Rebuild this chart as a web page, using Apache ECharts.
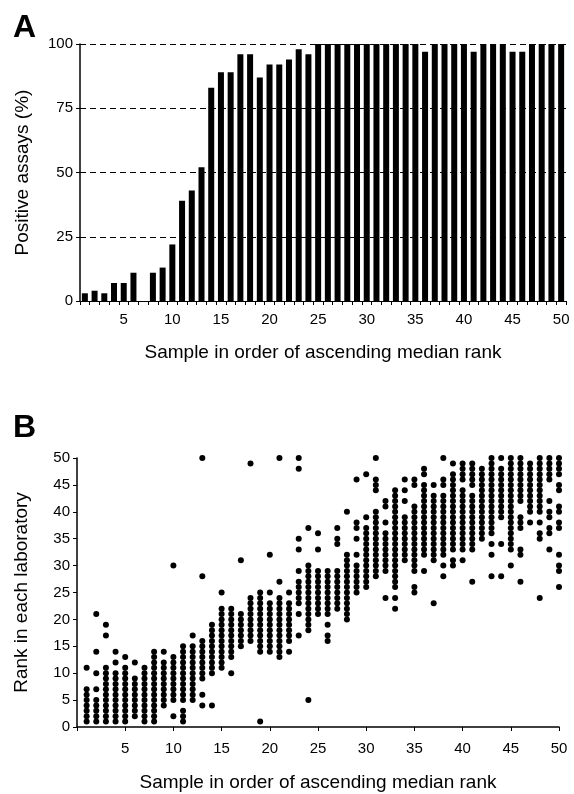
<!DOCTYPE html>
<html>
<head>
<meta charset="utf-8">
<script src="https://cdn.jsdelivr.net/npm/echarts@6/dist/echarts.min.js"></script>
<style>
html,body{margin:0;padding:0;background:#fff;}
#chart{width:574px;height:794px;}
</style>
</head>
<body>
<div id="chart"></div>
<script>
// ---- Panel A data ----
const samples = [1,2,3,4,5,6,7,8,9,10,11,12,13,14,15,16,17,18,19,20,21,22,23,24,25,26,27,28,29,30,31,32,33,34,35,36,37,38,39,40,41,42,43,44,45,46,47,48,49,50];
const positivePct = [3,4,3,7,7,11,0,11,13,22,39,43,52,83,89,89,96,96,87,92,92,94,98,96,100,100,100,100,100,100,100,100,100,100,100,97,100,100,100,100,97,100,100,100,97,97,100,100,100,100];
const pctTicks = [0,25,50,75,100];

// ---- Panel B data: ranks per sample (sample 1..50) ----
const ranks = [
  [11,7,6,5,4,3,2,1],
  [21,14,10,7,5,4,3,2,1],
  [19,17,11,10,9,8,7,6,5,4,3,2,1],
  [14,12,10,9,8,7,6,5,4,3,2,1],
  [13,11,10,9,8,7,6,5,4,3,2,1],
  [12,9,8,7,6,5,4,3,2],
  [11,10,9,8,7,6,5,4,3,2,1],
  [14,13,12,11,10,9,8,7,6,5,4,3,2,1],
  [14,12,11,10,9,8,7,6,5,4],
  [30,13,12,11,10,9,8,7,6,5,2],
  [15,14,13,12,11,10,9,8,7,6,5,3,2,1],
  [17,15,14,13,12,11,10,9,8,7,6,5],
  [50,28,16,15,14,13,12,11,10,9,6,4],
  [19,18,17,16,15,14,13,12,11,10,4],
  [25,22,21,20,19,18,17,16,15,14,13,12,11],
  [22,21,20,19,18,17,16,15,14,13,10],
  [31,21,20,19,18,17,16,15],
  [49,24,23,22,21,20,19,18,17,16],
  [25,24,23,22,21,20,19,18,17,16,15,14,1],
  [32,25,23,22,21,20,19,18,17,16,15,14],
  [50,27,24,23,22,21,20,19,18,17,16,15,14,13],
  [25,23,22,21,20,19,18,17,16,14],
  [50,48,35,33,29,27,26,25,24,23,21,17],
  [37,30,29,28,27,26,25,24,23,22,21,20,19,18,5],
  [36,33,29,28,27,26,25,24,23,22,21],
  [29,28,27,26,25,24,23,22,21,19,17,16],
  [37,35,34,29,28,27,26,25,24,23,22],
  [40,32,31,30,29,28,27,26,25,24,23,22,21,20],
  [46,38,37,35,32,30,29,28,27,26,25],
  [47,39,37,36,35,34,33,32,31,30,29,28,27,26],
  [50,46,45,44,40,39,38,37,36,35,34,33,32,31,30,29,28],
  [42,41,38,36,35,34,33,32,31,30,29,24],
  [44,43,42,41,40,39,38,37,36,35,34,33,32,31,30,29,28,27,26,24,22],
  [46,44,42,39,38,37,36,35,34,33,32,31],
  [46,45,41,40,39,38,37,36,35,34,33,32,31,30,29,26,25],
  [48,47,45,44,43,42,41,40,39,38,37,36,35,34,33,32,29],
  [45,43,42,41,40,39,38,37,36,35,34,33,32,31,23],
  [50,46,45,43,42,41,40,39,38,37,36,35,34,33,32,30,28],
  [49,47,46,45,44,43,42,41,40,39,38,37,36,35,34,33,31,30],
  [49,48,47,46,44,43,42,41,40,39,38,37,36,35,34,33,31],
  [49,48,47,46,45,43,42,41,40,39,38,37,36,35,34,33,27],
  [48,47,46,45,44,43,42,41,40,39,38,37,36,35],
  [50,49,48,47,46,45,44,43,42,41,40,39,38,37,36,34,32,28],
  [50,48,47,46,45,44,43,42,41,40,39,34,28],
  [50,49,48,47,46,45,44,43,42,41,40,39,38,37,36,35,34,33,30],
  [50,49,48,47,46,45,44,43,42,39,38,37,33,32,27],
  [49,48,47,46,45,44,43,42,41,40,38],
  [50,49,48,47,46,45,44,43,42,41,40,38,36,35,24],
  [50,49,48,47,46,42,40,39,37,36,33],
  [50,49,48,47,45,44,41,40,38,37,32,30,29,26]
];
const rankTicks = [0,5,10,15,20,25,30,35,40,45,50];

const scatterData = [];
ranks.forEach((list, i) => list.forEach(r => scatterData.push([samples[i], r])));

const FONT = "'Liberation Sans', Arial, sans-serif";
const black = '#000';
const txt = {color: black, fontFamily: FONT, fontSize: 15};

const chart = echarts.init(document.getElementById('chart'), null, {renderer: 'canvas'});
chart.setOption({
  animation: false,
  backgroundColor: '#fff',
  textStyle: {fontFamily: FONT, color: black},
  title: [
    {text: 'A', left: 8, top: 7, textStyle: {fontSize: 32, fontWeight: 'bold', color: black, fontFamily: FONT}},
    {text: 'B', left: 8, top: 407, textStyle: {fontSize: 32, fontWeight: 'bold', color: black, fontFamily: FONT}}
  ],
  grid: [
    {left: 80, top: 44, width: 486, height: 257, containLabel: false},
    {left: 77, top: 458, width: 482, height: 269, containLabel: false}
  ],
  xAxis: [
    {
      gridIndex: 0, type: 'category', data: samples, boundaryGap: true,
      axisLine: {lineStyle: {color: black, width: 1}},
      axisTick: {show: true, interval: 0, length: 4, lineStyle: {color: black}},
      axisLabel: Object.assign({interval: (i) => (i + 1) % 5 === 0, margin: 11}, txt),
      splitLine: {show: false},
      name: 'Sample in order of ascending median rank', nameLocation: 'middle', nameGap: 42,
      nameTextStyle: {fontSize: 19, color: black, fontFamily: FONT}
    },
    {
      gridIndex: 1, type: 'value', min: 0, max: 50, interval: 5,
      axisLine: {lineStyle: {color: black, width: 1.5}},
      axisTick: {show: true, length: 4, lineStyle: {color: black}},
      axisLabel: Object.assign({margin: 14, formatter: v => v === 0 ? '' : String(v)}, txt),
      splitLine: {show: false},
      name: 'Sample in order of ascending median rank', nameLocation: 'middle', nameGap: 46,
      nameTextStyle: {fontSize: 19, color: black, fontFamily: FONT}
    }
  ],
  yAxis: [
    {
      gridIndex: 0, type: 'value', min: pctTicks[0], max: pctTicks[pctTicks.length - 1], interval: 25,
      axisLine: {show: true, lineStyle: {color: black, width: 1.5}},
      axisTick: {show: true, length: 4, lineStyle: {color: black}},
      axisLabel: Object.assign({margin: 7}, txt),
      splitLine: {show: true, lineStyle: {color: black, type: [6, 4], width: 1}},
      name: 'Positive assays (%)', nameLocation: 'middle', nameGap: 48,
      nameTextStyle: {fontSize: 19, color: black, fontFamily: FONT}
    },
    {
      gridIndex: 1, type: 'value', min: rankTicks[0], max: rankTicks[rankTicks.length - 1], interval: 5,
      axisLine: {show: true, lineStyle: {color: black, width: 1.5}},
      axisTick: {show: true, length: 4, lineStyle: {color: black}},
      axisLabel: Object.assign({margin: 7}, txt),
      splitLine: {show: false},
      name: 'Rank in each laboratory', nameLocation: 'middle', nameGap: 46,
      nameTextStyle: {fontSize: 19, color: black, fontFamily: FONT}
    }
  ],
  series: [
    {
      type: 'bar', xAxisIndex: 0, yAxisIndex: 0, data: positivePct,
      barWidth: 6, itemStyle: {color: black}
    },
    {
      type: 'scatter', xAxisIndex: 1, yAxisIndex: 1, data: scatterData,
      symbol: 'circle', symbolSize: 6, itemStyle: {color: black, opacity: 1}
    }
  ]
});
</script>
</body>
</html>
